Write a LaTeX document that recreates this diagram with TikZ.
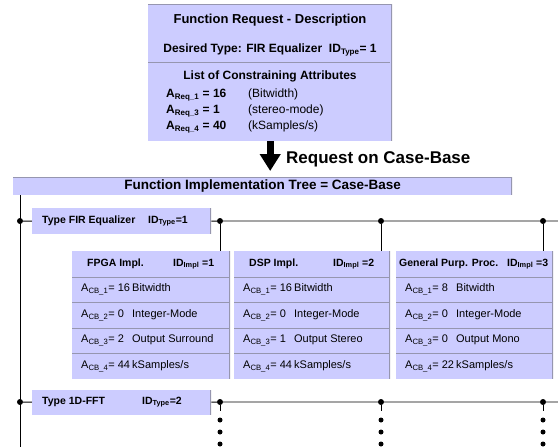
\documentclass[tikz,border=0pt]{standalone}
\usepackage{fontspec}
\setmainfont{Liberation Sans}
\usepackage{tikz}
\usetikzlibrary{arrows.meta,calc}
\definecolor{lilac}{RGB}{204,204,255}
\definecolor{rim}{RGB}{150,150,175}
\newcommand{\cbrow}[3]{\makebox[51pt][l]{A\textsubscript{CB\_#1}= #2}#3}
\newcommand{\reqrow}[3]{\makebox[82pt][l]{\bfseries A\textsubscript{Req\_#1} = #2}(#3)}

\begin{document}
\begin{tikzpicture}[x=1pt, y=-1pt,
  panel/.style={fill=lilac, inner sep=0pt, anchor=north west,
    path picture={\draw[rim, line width=1.5pt] (path picture bounding box.north east) -- (path picture bounding box.south east);}},
  top panel/.style={panel,
    path picture={\draw[rim, line width=1.5pt] (path picture bounding box.north west) -- (path picture bounding box.north east) -- (path picture bounding box.south east);}},
  blob/.style={circle, fill, inner sep=0pt, minimum size=6pt},
  small blob/.style={circle, fill, inner sep=0pt, minimum size=5pt},
  wire/.style={line width=0.9pt},
  sep/.style={draw=rim, line width=0.8pt},
  bigarrow/.style={line width=7pt, -{Triangle[width=20pt,length=17pt]}},
  txt/.style={inner sep=0pt, anchor=west, font=\fontsize{11}{13}\selectfont},
  head/.style={inner sep=0pt, font=\bfseries\fontsize{10.5}{12}\selectfont},
  title/.style={inner sep=0pt, font=\bfseries\fontsize{13.5}{15}\selectfont}]
\useasboundingbox (0,0) rectangle (558,447);

% request box
\node[top panel, minimum width=244pt, minimum height=137pt] (req) at (148,4) {};
\draw[sep] (148,62) -- (390,62);
\node[title, font=\bfseries\fontsize{13}{15}\selectfont] (reqtitle) at (270,20) {Function Request - Description};
\node[head, font=\bfseries\fontsize{12}{14}\selectfont] (desired) at (270,50) {Desired Type: FIR Equalizer\ \ ID\textsubscript{Type}= 1};
\node[head, font=\bfseries\fontsize{12}{14}\selectfont] (attrs) at (270,76) {List of Constraining Attributes};
\node[txt, font=\fontsize{12}{14}\selectfont] (r1) at (166,95) {\reqrow{1}{16}{Bitwidth}};
\node[txt, font=\fontsize{12}{14}\selectfont] (r3) at (166,111) {\reqrow{3}{1}{stereo-mode}};
\node[txt, font=\fontsize{12}{14}\selectfont] (r4) at (166,127) {\reqrow{4}{40}{kSamples/s}};

% case base
\node[top panel, minimum width=499pt, minimum height=18pt] (tree) at (13,177) {};
\node[title] (treetitle) at (tree.center) {Function Implementation Tree = Case-Base};
\draw[bigarrow] (req.south) -- ($(req.south |- tree.north)+(0,-6)$);
\node[inner sep=0pt, anchor=west, font=\bfseries\fontsize{17}{20}\selectfont] (query) at (286,159) {Request on Case-Base};

\coordinate (base) at (20,447);
\draw[wire] (tree.south -| base) -- (base);

% type 1
\node[panel, minimum width=179pt, minimum height=26pt] (fir) at (32,208) {};
\node[head, anchor=west] (firname) at (42,221) {Type FIR Equalizer};
\node[head, anchor=west] (firid) at (148,221) {ID\textsubscript{Type}=1};
\node[blob] (a0) at (20,221) {};
\node[blob] (a1) at (220,221) {};
\node[blob] (a2) at (381,221) {};
\node[blob] (a3) at (543,221) {};
\coordinate (aend) at (558,221);
\draw[wire] (a0) -- (fir.west);
\draw[wire] (fir.east) -- (a1) -- (a2) -- (a3) -- (aend);

% implementations
\node[panel, minimum width=158pt, minimum height=128pt] (fpga) at (72,251) {};
\node[panel, minimum width=156pt, minimum height=128pt] (dsp) at (234,251) {};
\node[panel, minimum width=157pt, minimum height=128pt] (gpp) at (396,251) {};
\draw[wire] (a1) -- (a1 |- fpga.north);
\draw[wire] (a2) -- (a2 |- dsp.north);
\draw[wire] (a3) -- (a3 |- gpp.north);
\foreach \y in {277,302.5,328,353.5} {
  \draw[sep] (72,\y) -- (230,\y);
  \draw[sep] (234,\y) -- (390,\y);
  \draw[sep] (396,\y) -- (553,\y);
}

\node[head, anchor=west] (fpganame) at (87,264) {FPGA Impl.};
\node[head, anchor=west] (fpgaid) at (173,264) {ID\textsubscript{Impl} =1};
\node[txt] (fpga1) at (81,289.5) {\cbrow{1}{16}{Bitwidth}};
\node[txt] (fpga2) at (81,315) {\cbrow{2}{0}{Integer-Mode}};
\node[txt] (fpga3) at (81,340.5) {\cbrow{3}{2}{Output Surround}};
\node[txt] (fpga4) at (81,366) {\cbrow{4}{44}{kSamples/s}};

\node[head, anchor=west] (dspname) at (249,264) {DSP Impl.};
\node[head, anchor=west] (dspid) at (333,264) {ID\textsubscript{Impl} =2};
\node[txt] (dsp1) at (243,289.5) {\cbrow{1}{16}{Bitwidth}};
\node[txt] (dsp2) at (243,315) {\cbrow{2}{0}{Integer-Mode}};
\node[txt] (dsp3) at (243,340.5) {\cbrow{3}{1}{Output Stereo}};
\node[txt] (dsp4) at (243,366) {\cbrow{4}{44}{kSamples/s}};

\node[head, anchor=west] (gppname) at (399,264) {General Purp. Proc.};
\node[head, anchor=west] (gppid) at (507,264) {ID\textsubscript{Impl} =3};
\node[txt] (gpp1) at (405,289.5) {\cbrow{1}{8}{Bitwidth}};
\node[txt] (gpp2) at (405,315) {\cbrow{2}{0}{Integer-Mode}};
\node[txt] (gpp3) at (405,340.5) {\cbrow{3}{0}{Output Mono}};
\node[txt] (gpp4) at (405,366) {\cbrow{4}{22}{kSamples/s}};

% type 2
\node[panel, minimum width=179pt, minimum height=25pt] (fft) at (32,389.5) {};
\node[head, anchor=west] (fftname) at (42,402) {Type 1D-FFT};
\node[head, anchor=west] (fftid) at (142,402) {ID\textsubscript{Type}=2};
\node[blob] (b0) at (20,402) {};
\node[blob] (b1) at (220,402) {};
\node[blob] (b2) at (381,402) {};
\node[blob] (b3) at (543,402) {};
\coordinate (bend) at (558,402);
\draw[wire] (b0) -- (fft.west);
\draw[wire] (fft.east) -- (b1) -- (b2) -- (b3) -- (bend);
\foreach \n/\x in {1/220,2/381,3/543} {
  \coordinate (t\n) at (\x,411);
  \draw[wire] (b\n) -- (t\n);
  \node[small blob] at (\x,420) {};
  \node[small blob] at (\x,432) {};
  \node[small blob] at (\x,444) {};
}
\end{tikzpicture}
\end{document}
